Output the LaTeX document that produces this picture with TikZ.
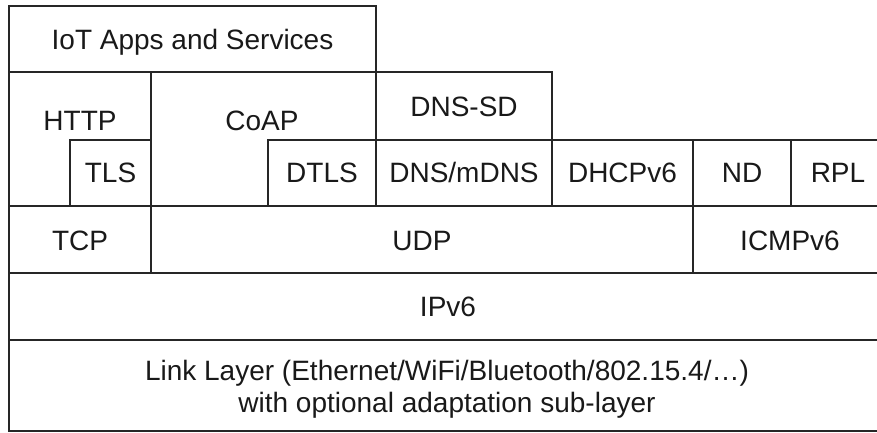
\documentclass[tikz,border=0pt]{standalone}
\usepackage{fontspec}
\setmainfont{Liberation Sans}
\begin{document}
\begin{tikzpicture}[x=1pt,y=-1pt,
  box/.style={draw=black!85,line width=1.6pt},
  lbl/.style={anchor=base,inner sep=0pt,font=\fontsize{28}{32}\selectfont,text=black!90}]
\useasboundingbox (0,0) rectangle (877,433);
\clip (0,0) rectangle (877,433);
% boxes
\draw[box] (9,6) rectangle (376,72);
\draw[box] (9,72) rectangle (151,206);
\draw[box] (70,140) rectangle (151,206);
\draw[box] (151,72) rectangle (376,206);
\draw[box] (268,140) rectangle (376,206);
\draw[box] (376,72) rectangle (552,140);
\draw[box] (376,140) rectangle (552,206);
\draw[box] (552,140) rectangle (693,206);
\draw[box] (693,140) rectangle (791,206);
\draw[box] (791,140) rectangle (887,206);
\draw[box] (9,206) rectangle (151,273);
\draw[box] (151,206) rectangle (693,273);
\draw[box] (693,206) rectangle (887,273);
\draw[box] (9,273) rectangle (887,340);
\draw[box] (9,340) rectangle (887,431);
% labels
\node[lbl] (iot) at (192.5,50) {IoT Apps and Services};
\node[lbl] (http) at (80,130) {HTTP};
\node[lbl] (coap) at (262,130) {CoAP};
\node[lbl] (dnssd) at (464,117) {DNS-SD};
\node[lbl] (tls) at (110.5,182) {TLS};
\node[lbl] (dtls) at (322,182) {DTLS};
\node[lbl] (dns) at (464,182) {DNS/mDNS};
\node[lbl] (dhcp) at (622.5,182) {DHCPv6};
\node[lbl] (nd) at (742,182) {ND};
\node[lbl] (rpl) at (838,182) {RPL};
\node[lbl] (tcp) at (80,250) {TCP};
\node[lbl] (udp) at (422,250) {UDP};
\node[lbl] (icmp) at (790,250) {ICMPv6};
\node[lbl] (ipv6) at (448,316) {IPv6};
\node[lbl] (link1) at (447,380) {Link Layer (Ethernet/WiFi/Bluetooth/802.15.4/…)};
\node[lbl] (link2) at (447,412) {with optional adaptation sub-layer};
\end{tikzpicture}
\end{document}
